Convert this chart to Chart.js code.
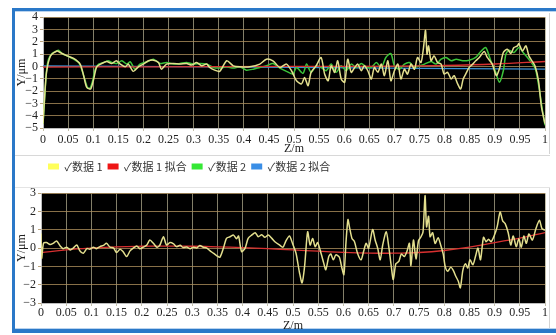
<!DOCTYPE html>
<html>
<head>
<meta charset="utf-8">
<script src="https://cdn.jsdelivr.net/npm/chart.js@4/dist/chart.umd.min.js"></script>
<style>
  html, body { margin: 0; padding: 0; background: #fff; }
  body { position: relative; width: 556px; height: 335px; overflow: hidden; }
  .line { position: absolute; }
  canvas { position: absolute; }
  #topChart { left: 15px; top: 8px; }
  #bottomChart { left: 15px; top: 184px; }
</style>
</head>
<body>
<!-- window frame -->
<div class="line" style="left:12px;top:8px;width:544px;height:3px;background:#2a78c8"></div>
<div class="line" style="left:15px;top:11px;width:541px;height:1px;background:#b9d3ee"></div>
<div class="line" style="left:12px;top:8px;width:3px;height:325px;background:#2a78c8"></div>
<div class="line" style="left:12px;top:329px;width:544px;height:4px;background:#2a78c8"></div>
<div class="line" style="left:15px;top:328px;width:541px;height:1px;background:#b9d3ee"></div>
<div class="line" style="left:549px;top:13px;width:1px;height:141px;background:#d4d4d4"></div>
<div class="line" style="left:549px;top:187px;width:1px;height:141px;background:#d4d4d4"></div>
<div class="line" style="left:15px;top:155px;width:535px;height:1px;background:#d8d8d8"></div>
<div class="line" style="left:15px;top:187px;width:535px;height:1px;background:#e4e4e4"></div>

<canvas id="topChart" width="535" height="174"></canvas>
<canvas id="bottomChart" width="535" height="149"></canvas>

<script>
// ---- axis tick labels ----
const zTickLabels = ['0','0.05','0.1','0.15','0.2','0.25','0.3','0.35','0.4','0.45','0.5',
  '0.55','0.6','0.65','0.7','0.75','0.8','0.85','0.9','0.95','1'];
const yTickLabelsTop = ['\u22125','\u22124','\u22123','\u22122','\u22121','0','1','2','3','4'];
const yTickLabelsBottom = ['\u22123','\u22122','\u22121','0','1','2','3'];

// ---- 数据 1 (raw profile) ----
const zRaw1 = [0,0.003,0.007,0.015,0.028,0.034,0.048,0.061,0.074,0.081,
  0.087,0.095,0.101,0.107,0.117,0.127,0.137,0.146,0.154,0.164,
  0.170,0.180,0.190,0.200,0.210,0.220,0.230,0.236,0.246,0.260,
  0.273,0.286,0.296,0.306,0.316,0.326,0.332,0.342,0.352,0.366,
  0.379,0.392,0.412,0.432,0.445,0.458,0.472,0.485,0.495,0.505,
  0.515,0.521,0.528,0.534,0.544,0.554,0.561,0.568,0.574,0.581,
  0.587,0.594,0.601,0.607,0.614,0.621,0.627,0.634,0.640,0.647,
  0.654,0.660,0.667,0.674,0.680,0.687,0.693,0.700,0.707,0.713,
  0.720,0.726,0.733,0.740,0.746,0.753,0.758,0.762,0.765,0.768,
  0.773,0.779,0.786,0.793,0.799,0.806,0.813,0.819,0.826,0.832,
  0.837,0.842,0.849,0.856,0.862,0.869,0.879,0.885,0.895,0.903,
  0.910,0.917,0.925,0.932,0.938,0.945,0.948,0.955,0.962,0.968,
  0.974,0.980,0.987,0.993,1.0];
const yRaw1 = [-4.65,-2.63,-0.48,0.86,1.26,1.13,0.86,0.65,0.19,-0.75,
  -1.69,-1.83,-1.02,-0.03,0.24,0.4,0.24,0.46,0.19,-0.03,
  0.19,-0.4,-0.03,0.19,0.46,0.51,0.32,-0.22,0.19,0.24,
  0.19,0.24,0.11,0.32,0.05,0.19,-0.08,-0.3,-0.4,0.46,
  0.05,-0.03,-0.03,0.19,0.59,0.46,-0.08,0.19,-0.35,-1.16,
  -1.42,-0.89,-1.56,-0.48,0.05,0.73,-0.62,-1.16,0.05,-0.48,
  0.46,-1.02,-1.29,0.59,-0.48,-0.08,0.19,-0.35,0.05,-0.35,
  -1.02,-0.08,-0.48,0.19,-0.75,0.46,-1.16,-0.35,0.19,-1.02,
  -0.22,-0.62,0.19,-0.22,0.73,0.32,1.53,2.93,0.99,1.67,
  0.46,0.86,0.32,0.19,-0.62,-0.48,-1.02,-0.75,-1.42,-1.83,
  -1.02,-0.62,-0.08,0.19,0.46,0.73,1.21,0.73,0.19,-0.75,
  -0.08,1.13,1.4,1.05,1.53,1.67,1.85,1.26,1.67,0.86,
  0.46,0.05,-1.16,-3.31,-4.65];

// ---- 数据 2 (raw profile) ----
const zRaw2 = [0,0.003,0.007,0.011,0.018,0.025,0.031,0.038,0.048,0.061,
  0.071,0.077,0.083,0.089,0.094,0.099,0.104,0.111,0.121,0.130,
  0.137,0.147,0.157,0.167,0.174,0.183,0.193,0.207,0.220,0.233,
  0.246,0.260,0.273,0.286,0.299,0.313,0.326,0.339,0.352,0.366,
  0.379,0.392,0.405,0.419,0.432,0.445,0.458,0.472,0.485,0.498,
  0.505,0.518,0.525,0.534,0.544,0.554,0.564,0.574,0.584,0.594,
  0.604,0.614,0.624,0.634,0.644,0.654,0.664,0.674,0.683,0.693,
  0.700,0.710,0.720,0.730,0.740,0.750,0.760,0.773,0.783,0.793,
  0.803,0.813,0.823,0.836,0.849,0.862,0.872,0.882,0.892,0.902,
  0.909,0.917,0.922,0.928,0.938,0.948,0.958,0.965,0.975,0.981,
  0.988,0.995,1.0];
const yRaw2 = [-4.65,-2.77,-0.35,0.59,1.05,1.21,1.32,1.05,0.86,0.59,
  0.32,-0.22,-1.02,-1.75,-1.75,-1.16,-0.22,0.19,0.32,0.46,
  0.32,0.24,0.46,0.19,0.38,-0.22,0.19,0.38,0.59,0.24,
  0.32,0.19,0.24,0.32,0.19,0.24,0.19,-0.08,-0.13,-0.03,
  -0.13,-0.03,-0.3,-0.22,-0.08,0.05,0.24,-0.13,-0.4,-0.62,
  -0.08,-0.56,0.19,-0.48,0.05,-0.08,-0.35,0.19,-0.48,0.05,
  -0.35,0.19,-0.08,0.24,-0.03,-0.08,0.32,-0.08,0.73,1.05,
  0.05,-0.22,0.19,0.32,-0.08,0.05,0.19,0.4,0.19,0.59,
  0.73,0.46,0.59,0.46,0.51,0.73,1.21,1.53,0.46,-0.48,
  -1.29,-0.35,0.99,1.32,1.13,1.53,1.05,0.73,0.19,-0.22,
  -1.69,-3.58,-4.78];

// ---- fitted curves of the raw profiles ----
const zFit1 = [0, 0.2, 0.5, 0.7, 0.8, 0.9, 1.0];
const yFit1 = [-0.05, -0.03, 0, 0.02, 0.08, 0.2, 0.4];
const zFit2 = [0, 0.5, 1.0];
const yFit2 = [0.05, -0.08, -0.22];

// ---- 数据 1 after edge removal ----
const zDet1 = [0,0.0013,0.005,0.011,0.018,0.024,0.031,0.038,0.044,0.051,
  0.058,0.064,0.071,0.077,0.084,0.091,0.097,0.104,0.110,0.117,
  0.124,0.130,0.137,0.144,0.150,0.157,0.163,0.170,0.177,0.183,
  0.190,0.196,0.203,0.210,0.216,0.223,0.230,0.236,0.243,0.249,
  0.256,0.263,0.269,0.276,0.282,0.289,0.296,0.302,0.309,0.315,
  0.322,0.329,0.335,0.342,0.349,0.355,0.362,0.368,0.375,0.382,
  0.388,0.392,0.398,0.405,0.411,0.418,0.425,0.431,0.438,0.444,
  0.451,0.458,0.464,
  0.473,0.480,0.486,0.493,0.499,0.506,0.513,0.518,0.523,0.529,
  0.534,0.539,0.544,0.549,0.556,0.561,0.565,0.571,0.575,0.580,
  0.585,0.592,0.597,0.601,0.605,0.609,0.612,0.617,0.622,0.628,
  0.635,0.640,0.645,0.650,0.658,0.663,0.668,0.673,0.678,0.685,
  0.690,0.695,0.699,0.704,0.710,0.715,0.721,0.726,0.731,0.734,
  0.739,0.744,0.749,0.754,0.758,0.762,0.765,0.769,0.772,0.777,
  0.782,0.788,0.793,0.798,0.802,0.807,0.813,0.818,0.823,0.828,
  0.832,0.837,0.842,0.847,0.851,0.857,0.862,0.867,0.872,0.878,
  0.883,0.888,0.893,0.899,0.905,0.911,0.916,0.921,0.927,0.932,
  0.937,0.943,0.948,0.953,0.958,0.963,0.968,0.975,0.982,0.989,
  0.994,1.0];
const yDet1 = [0.8,-0.55,0.26,0.3,0.2,0.26,0.39,0.12,-0.03,0.05,
  -0.1,0,0.17,-0.14,-0.28,-0.03,-0.06,0.05,-0.03,0.08,
  0.15,0.26,0.05,0,-0.24,-0.06,-0.2,-0.46,-0.14,0,
  0.12,-0.03,0.05,0.17,0.44,0.26,0.05,0.17,0.62,0.17,
  0.3,0.23,0.08,0.15,0.03,0.06,-0.03,0.05,0.01,0.14,
  0.05,0,-0.14,-0.28,-0.42,-0.5,0,0.53,0.62,0.71,
  0.51,0.66,-0.19,0,0.53,0.71,0.84,0.62,0.73,0.59,
  0.71,0.53,0.35,
  0.17,0.05,0.4,0.66,0.26,-0.28,-1.36,-1.9,-1.0,0.89,
  0.17,0.53,0.08,0.3,-0.32,-0.82,-1.18,-0.46,-0.32,-0.64,
  -0.37,-0.5,-1.09,-1.45,0.26,1.56,1.16,0.53,0.35,-0.28,
  -0.64,-0.19,0.26,0,1.02,0.44,0,-0.64,0.17,0.89,
  0.08,-1.0,-1.72,-0.86,-0.73,-0.32,-0.46,-0.19,0.26,-0.96,
  0.44,-0.6,0.4,0.62,0.89,2.87,1.16,1.74,0.62,0.84,
  0.26,0.57,0.17,-0.32,-1.0,-1.27,-1.04,-1.22,-1.54,-1.81,
  -2.17,-1.22,-0.86,-1.09,-0.64,-0.91,-0.46,0,-0.64,0.59,
  0.35,0.48,0.35,0.66,1.16,1.97,1.49,1.34,0.84,0.17,
  0.66,0.08,0.51,0.05,0.66,0.26,0.77,0.44,1.07,1.52,
  1.07,0.98];
const zDetFit = [0,0.05,0.1,0.15,0.2,0.25,0.3,0.35,0.4,0.45,0.5,
  0.55,0.6,0.65,0.7,0.75,0.8,0.85,0.9,0.95,1.0];
const yDetFit = [-0.25,-0.1,0,0.07,0.1,0.11,0.1,0.07,0.03,-0.03,-0.1,
  -0.17,-0.23,-0.27,-0.28,-0.24,-0.13,0.05,0.3,0.55,0.85];

// ---- styling ----
const COLORS = {
  d1: '#e3df8e', d1Key: '#ffff5a',
  f1: '#d83030', f1Key: '#ee1515',
  d2: '#3cc43a', d2Key: '#35e835',
  f2: '#3a8fd4', f2Key: '#3a8ee6'
};
const serif = "'Liberation Serif', 'Times New Roman', serif";
const cjk = "'Noto Sans CJK SC', 'Noto Sans', sans-serif";

const pts = (zs, ys) => zs.map((z, i) => ({ x: z, y: ys[i] }));

const plotBackground = {
  id: 'plotBackground',
  beforeDraw(chart) {
    const { ctx, chartArea: a } = chart;
    ctx.save();
    ctx.fillStyle = '#000';
    ctx.fillRect(a.left, a.top, a.width, a.height);
    ctx.restore();
  }
};

function series(label, data, color, key, width, tension) {
  return {
    label, data,
    borderColor: color, backgroundColor: key,
    borderWidth: width, pointRadius: 0, tension: tension, fill: false
  };
}

function makeOptions(cfg) {
  return {
    responsive: false,
    animation: false,
    layout: { padding: { left: 0, right: cfg.padRight, top: 0, bottom: 0 } },
    plugins: {
      tooltip: { enabled: false },
      legend: cfg.legend ? {
        display: true,
        position: 'bottom',
        align: 'start',
        fullSize: false,
        labels: {
          boxWidth: 11, boxHeight: 6, padding: 5,
          color: '#333',
          font: { family: cjk, size: 11 },
          generateLabels(chart) {
            return Chart.defaults.plugins.legend.labels.generateLabels(chart).map(l =>
              Object.assign(l, { text: '\u2713' + l.text, lineWidth: 0, strokeStyle: 'rgba(0,0,0,0)' }));
          }
        }
      } : { display: false }
    },
    scales: {
      x: {
        type: 'linear', min: 0, max: 1,
        afterFit(s) { s.height = cfg.xAxisHeight; },
        ticks: {
          stepSize: 0.05, autoSkip: false, maxRotation: 0, padding: cfg.xTickPad,
          color: '#222', font: { family: serif, size: 12 },
          callback: (v, i) => zTickLabels[i]
        },
        grid: { color: 'rgba(175,170,140,0.75)', lineWidth: 1, tickLength: 3 },
        border: { color: '#bdbdbd' },
        title: { display: true, text: 'Z/m', color: '#222', font: { family: serif, size: 12 }, padding: 0 }
      },
      y: {
        type: 'linear', min: cfg.yMin, max: cfg.yMax,
        afterFit(s) { s.width = cfg.yAxisWidth; },
        ticks: {
          stepSize: 1, autoSkip: false, padding: 2,
          color: '#222', font: { family: serif, size: 12 },
          callback: (v, i) => cfg.yLabels[i]
        },
        grid: { color: 'rgba(170,140,90,0.8)', lineWidth: 1, tickLength: 3 },
        border: { color: '#bdbdbd' },
        title: { display: true, text: 'Y/\u03bcm', color: '#222', font: { family: serif, size: 12 }, padding: 0 }
      }
    }
  };
}

new Chart(document.getElementById('topChart'), {
  type: 'line',
  data: {
    datasets: [
      series('数据 1', pts(zRaw1, yRaw1), COLORS.d1, COLORS.d1Key, 1.5, 0.25),
      series('数据 1 拟合', pts(zFit1, yFit1), COLORS.f1, COLORS.f1Key, 1.3, 0.4),
      series('数据 2', pts(zRaw2, yRaw2), COLORS.d2, COLORS.d2Key, 1.5, 0.25),
      series('数据 2 拟合', pts(zFit2, yFit2), COLORS.f2, COLORS.f2Key, 1.3, 0.4)
    ]
  },
  options: makeOptions({ legend: true, padRight: 4, yAxisWidth: 28, xAxisHeight: 28, xTickPad: 2,
    yMin: -5, yMax: 4, yLabels: yTickLabelsTop }),
  plugins: [plotBackground]
});

new Chart(document.getElementById('bottomChart'), {
  type: 'line',
  data: {
    datasets: [
      series('数据 1', pts(zDet1, yDet1), COLORS.d1, COLORS.d1Key, 1.5, 0.25),
      series('数据 1 拟合', pts(zDetFit, yDetFit), COLORS.f1, COLORS.f1Key, 1.3, 0.4)
    ]
  },
  options: makeOptions({ legend: false, padRight: 5, yAxisWidth: 26, xAxisHeight: 30, xTickPad: 0,
    yMin: -3, yMax: 3, yLabels: yTickLabelsBottom }),
  plugins: [plotBackground]
});
</script>
</body>
</html>
